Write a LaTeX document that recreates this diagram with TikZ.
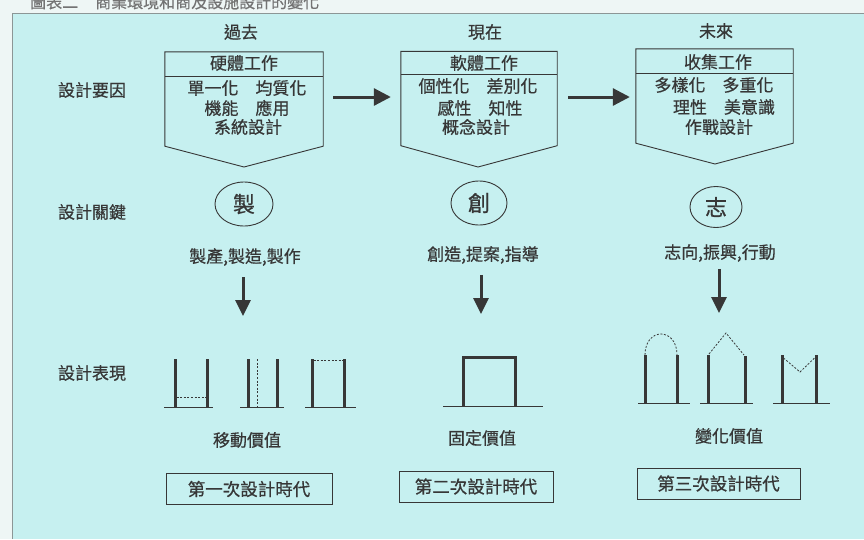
\documentclass[tikz,border=0pt]{standalone}
\usepackage{fontspec}
\setmainfont{Noto Sans CJK TC}[FakeBold=0.6]
\usetikzlibrary{arrows.meta,shapes.geometric}
\definecolor{panel}{RGB}{198,240,240}
\definecolor{paper}{RGB}{238,246,245}
\definecolor{ink}{RGB}{55,55,55}
\definecolor{frame}{RGB}{140,150,150}
\begin{document}
\begin{tikzpicture}[x=1pt,y=-1pt,
  txt/.style={font=\fontsize{17}{20}\selectfont, text=ink, inner sep=0pt},
  bigtxt/.style={font=\fontsize{22}{24}\selectfont, text=ink, inner sep=0pt},
  titletxt/.style={font=\fontsize{16}{18}\selectfont, text=ink!70, inner sep=0pt, anchor=west},
  body/.style={draw=none, minimum width=#1, minimum height=94pt, inner sep=0pt},
  boxline/.style={draw=ink, line width=0.9pt},
  ovalnode/.style={ellipse, draw=ink, line width=0.9pt, inner sep=0pt},
  erabox/.style={draw=ink, line width=0.9pt, minimum height=31pt, inner sep=0pt, font=\fontsize{17.5}{20}\selectfont, text=ink},
  hbig/.style={draw=ink, line width=3pt, -{Triangle[length=17pt,width=17pt]}},
  vbig/.style={draw=ink, line width=3pt, -{Triangle[length=16pt,width=15pt]}},
  post/.style={draw=ink, line width=3pt},
  ground/.style={draw=ink, line width=1pt},
  dashline/.style={draw=ink, line width=0.8pt, dash pattern=on 2pt off 1.6pt}
]
\useasboundingbox (0,0) rectangle (864,539);
\fill[paper] (0,0) rectangle (864,539);
\fill[panel] (12,13) rectangle (864,539);
\draw[frame, line width=0.8pt] (12,539) -- (12,13) -- (864,13);

% title (cut off at the top, as in the source)
\node[titletxt] (t0) at (30,2) {圖表二};
\node[titletxt] (t1) at (95,2) {商業環境和商及設施設計的變化};

% column heads
\node[txt] (h1) at (241,32) {過去};
\node[txt] (h2) at (485,32) {現在};
\node[txt] (h3) at (716,31) {未來};

% left labels
\node[txt] (l1) at (92,90) {設計要因};
\node[txt] (l2) at (92,212) {設計關鍵};
\node[txt] (l3) at (92,373) {設計表現};

% pentagon boxes
\node[body=158pt] (b1) at (244,99) {};
\coordinate (p1) at (244,167);
\draw[boxline] (b1.north west) -- (b1.north east) -- (b1.south east) -- (p1) -- (b1.south west) -- cycle;
\draw[boxline] (b1.west |- 0,76) -- (b1.east |- 0,76);
\node[txt] (b1a) at (244,63) {硬體工作};
\node[txt] (b1b) at (247,88) {單一化　均質化};
\node[txt] (b1c) at (247,108) {機能　應用};
\node[txt] (b1d) at (248,127) {系統設計};

\node[body=156pt] (b2) at (479,98.5) {};
\coordinate (p2) at (478,167);
\draw[boxline] (b2.north west) -- (b2.north east) -- (b2.south east) -- (p2) -- (b2.south west) -- cycle;
\draw[boxline] (b2.west |- 0,74) -- (b2.east |- 0,74);
\node[txt] (b2a) at (484,63) {軟體工作};
\node[txt] (b2b) at (478,86) {個性化　差別化};
\node[txt] (b2c) at (480,108) {感性　知性};
\node[txt] (b2d) at (476,127) {概念設計};

\node[body=157pt] (b3) at (714.5,96) {};
\coordinate (p3) at (715,164);
\draw[boxline] (b3.north west) -- (b3.north east) -- (b3.south east) -- (p3) -- (b3.south west) -- cycle;
\draw[boxline] (b3.west |- 0,73) -- (b3.east |- 0,73);
\node[txt] (b3a) at (718,62) {收集工作};
\node[txt] (b3b) at (714,85) {多樣化　多重化};
\node[txt] (b3c) at (724,107) {理性　美意識};
\node[txt] (b3d) at (719,127) {作戰設計};

% horizontal arrows
\draw[hbig, shorten <=10pt, shorten >=10pt] (b1.east |- 0,97) -- (b2.west |- 0,97);
\draw[hbig, shorten <=11pt, shorten >=6pt] (b2.east |- 0,97) -- (b3.west |- 0,97);

% key ovals
\node[ovalnode, minimum width=58pt, minimum height=44pt] (e1) at (244,204) {};
\node[bigtxt] (e1t) at (244,204) {製};
\node[ovalnode, minimum width=56pt, minimum height=44pt] (e2) at (479,203) {};
\node[bigtxt] (e2t) at (479,203) {創};
\node[ovalnode, minimum width=52pt, minimum height=41pt] (e3) at (716,207) {};
\node[bigtxt] (e3t) at (716,207) {志};

% keywords
\node[txt] (k1) at (245,257) {製產,製造,製作};
\node[txt] (k2) at (483,255) {創造,提案,指導};
\node[txt] (k3) at (720,253) {志向,振興,行動};

% down arrows
\coordinate (d1) at (243,316);
\coordinate (d2) at (481,314);
\coordinate (d3) at (719,313);
\draw[vbig, shorten <=11pt] (k1.south -| d1) -- (d1);
\draw[vbig, shorten <=11pt] (k2.south -| d2) -- (d2);
\draw[vbig, shorten <=7pt] (k3.south -| d3) -- (d3);

% --- design expression: past
\draw[ground] (164,407) -- (213,407);
\draw[post] (175,359) -- (175,407);
\draw[post] (207,359) -- (207,407);
\draw[dashline] (176.5,397) -- (205.5,397);

\draw[ground] (240,407) -- (284,407);
\draw[post] (248,359) -- (248,407);
\draw[post] (277,359) -- (277,407);
\draw[dashline] (257,359) -- (257,407);

\draw[ground] (305,407) -- (356,407);
\draw[post] (312,359) -- (312,407);
\draw[post] (344,359) -- (344,407);
\draw[dashline] (313.5,360) -- (342.5,360);

% --- present
\draw[ground] (443,406) -- (543,406);
\draw[post] (463,406) -- (463,357) -- (515,357) -- (515,407);

% --- future
\draw[ground] (638,403) -- (690,403);
\draw[post] (645,355) -- (645,403);
\draw[post] (677,355) -- (677,403);
\draw[dashline] (645,355) .. controls (645,327) and (677,327) .. (677,355);

\draw[ground] (700,403) -- (753,403);
\draw[post] (708,355) -- (708,403);
\draw[post] (745,356) -- (745,403);
\draw[dashline] (709,354) -- (726,333) -- (744,355);

\draw[ground] (773,403) -- (830,403);
\draw[post] (782,355) -- (782,403);
\draw[post] (816,355) -- (816,403);
\draw[dashline] (783.5,358) -- (800,372) -- (814.5,358);

% values
\node[txt] (v1) at (247,440) {移動價值};
\node[txt] (v2) at (482,438) {固定價值};
\node[txt] (v3) at (729,436) {變化價值};

% era boxes
\node[erabox, minimum width=166pt] (n1) at (249,489) {第一次設計時代};
\node[erabox, minimum width=154pt] (n2) at (476,486.5) {第二次設計時代};
\node[erabox, minimum width=163pt] (n3) at (718.5,483.5) {第三次設計時代};
\end{tikzpicture}
\end{document}
